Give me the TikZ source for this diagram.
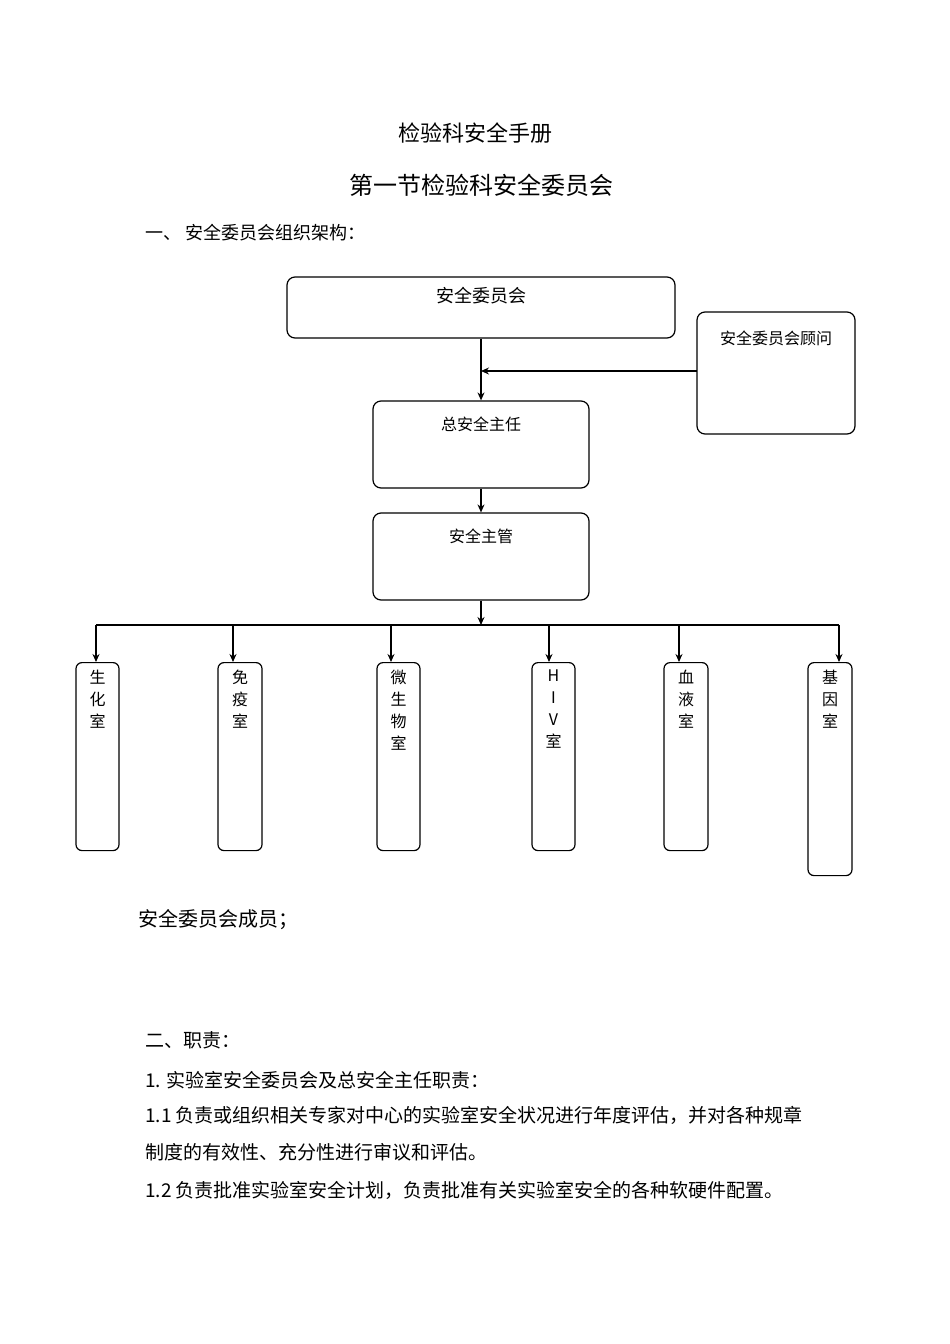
\documentclass[tikz,border=0pt]{standalone}
\usepackage{fontspec}
\setmainfont{Liberation Serif}
\newfontfamily\cjk{Noto Sans CJK SC}
\usetikzlibrary{arrows.meta}
\begin{document}
\begin{tikzpicture}[x=1pt,y=-1pt,
  box/.style={draw,line width=1.2pt,rounded corners=8pt,inner sep=0pt},
  lab/.style={font=\cjk\fontsize{16}{18}\selectfont,anchor=center},
  arr/.style={line width=1.2pt,-{Stealth[length=8pt,width=7pt]}},
  body/.style={font=\cjk\fontsize{19}{21}\selectfont,anchor=west,inner sep=0pt},
  vt/.style={font=\cjk\fontsize{16}{22}\selectfont,align=center,anchor=north,inner sep=0pt}]
\useasboundingbox (0,0) rectangle (950,1344);
\node[font=\cjk\fontsize{22}{24}\selectfont] (t1) at (475,133) {检验科安全手册};
\node[font=\cjk\fontsize{24}{26}\selectfont] (t2) at (481,185) {第一节检验科安全委员会};
\node[body,font=\cjk\fontsize{18}{20}\selectfont] (t3) at (145,233) {一、 安全委员会组织架构：};
% boxes
\node[box,minimum width=388pt,minimum height=61pt] (wyh) at (481,307.5) {};
\node[lab,font=\cjk\fontsize{18}{20}\selectfont] at (481,296) {安全委员会};
\node[box,minimum width=158pt,minimum height=122pt] (gw) at (776,373) {};
\node[lab] at (776,338) {安全委员会顾问};
\node[box,minimum width=216pt,minimum height=87pt] (zr) at (481,444.5) {};
\node[lab] at (481,424) {总安全主任};
\node[box,minimum width=216pt,minimum height=87pt] (zg) at (481,556.5) {};
\node[lab] at (481,536) {安全主管};
\coordinate (j1) at (481,371);
\coordinate (gwl) at (697,371);
\draw[arr] (wyh.south) -- (zr.north);
\draw[arr] (gwl) -- (j1);
\draw[arr] (zr.south) -- (zg.north);
\coordinate (bus) at (481,625);
\draw[arr] (zg.south) -- (bus);
\draw[line width=1.2pt] (96,625) -- (839,625);
% bottom boxes
\foreach \n/\x/\w/\xa/\h/\t in {a/97.5/43/96/188/生\\化\\室, b/240/44/233/188/免\\疫\\室, c/398.5/43/391/188/微\\生\\物\\室, d/553.5/43/549/188/H\\I\\V\\室, e/686/44/679/188/血\\液\\室, f/830/44/839/213/基\\因\\室}{
  \node[box,rounded corners=6pt,minimum width=\w pt,minimum height=\h pt,anchor=north] (\n) at (\x,662) {};
  \node[vt] at (\x,670) {\t};
  \coordinate (c\n) at (\xa,625);
  \draw[arr] (c\n) -- (\xa,662);
}
\node[font=\cjk\fontsize{20}{22}\selectfont,anchor=west,inner sep=0pt] (m) at (138,920) {安全委员会成员；};
\node[body] at (145,1040) {二、职责：};
\node[body] at (145,1080) {1. 实验室安全委员会及总安全主任职责：};
\node[body] at (145,1115) {1.1 负责或组织相关专家对中心的实验室安全状况进行年度评估，并对各种规章};
\node[body] at (145,1152) {制度的有效性、充分性进行审议和评估。};
\node[body] at (145,1190) {1.2 负责批准实验室安全计划，负责批准有关实验室安全的各种软硬件配置。};
\end{tikzpicture}
\end{document}
